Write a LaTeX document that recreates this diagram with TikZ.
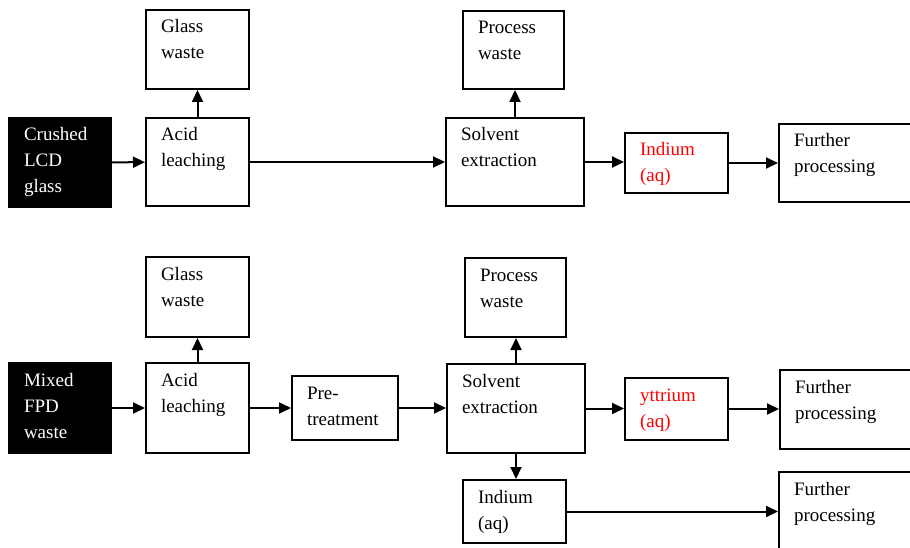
\documentclass[tikz,border=0pt]{standalone}
\usepackage{fontspec}
\setmainfont{Liberation Serif}
\usepackage{xcolor}
\usetikzlibrary{positioning, arrows.meta}
\definecolor{aqred}{HTML}{FF0000}

\begin{document}
\begin{tikzpicture}[
    x=1pt, y=-1pt,
    box/.style={draw, line width=2pt, anchor=north west, align=left, inner xsep=15pt, inner ysep=8pt, text height=15pt, font=\fontsize{19}{26}\selectfont},
    sz/.style 2 args={text width=#1, text depth=#2},
    feed/.style={box, fill=black, text=white},
    arrow/.style={-{Triangle[length=12pt, width=11pt]}, line width=2pt}
  ]
    \clip (0,0) rectangle (910,548);
    % LCD route
    \node[feed, sz={72pt}{58pt}] (crushed) at (8,117)  {Crushed\\LCD\\glass};
    \node[box, sz={73pt}{57pt}]  (acid1)  at (145,117) {Acid\\leaching};
    \node[box, sz={73pt}{48pt}]  (glass1) at (145,9)   {Glass\\waste};
    \node[box, sz={108pt}{57pt}] (solv1)  at (445,117) {Solvent\\extraction};
    \node[box, sz={71pt}{47pt}]  (proc1)  at (462,10)  {Process\\waste};
    \node[box, sz={73pt}{29pt}, text=aqred] (ind1) at (624,132) {Indium\\(aq)};
    \node[box, sz={130pt}{47pt}] (furth1) at (778,123) {Further\\processing};
    % FPD route
    \node[feed, sz={72pt}{59pt}] (mixed)  at (8,362)   {Mixed\\FPD\\waste};
    \node[box, sz={73pt}{59pt}]  (acid2)  at (145,362) {Acid\\leaching};
    \node[box, sz={73pt}{49pt}]  (glass2) at (145,256) {Glass\\waste};
    \node[box, sz={76pt}{33pt}]  (pre)    at (291,375) {Pre-\\treatment};
    \node[box, sz={108pt}{58pt}] (solv2)  at (446,363) {Solvent\\extraction};
    \node[box, sz={71pt}{48pt}]  (proc2)  at (464,257) {Process\\waste};
    \node[box, sz={73pt}{31pt}, text=aqred] (yttr) at (624,377) {yttrium\\(aq)};
    \node[box, sz={130pt}{48pt}] (furth2) at (779,369) {Further\\processing};
    \node[box, sz={73pt}{32pt}]  (ind2)   at (462,479) {Indium\\(aq)};
    \node[box, sz={130pt}{69pt}] (furth3) at (778,471) {Further\\processing};

    \draw[arrow] (crushed) -- (acid1);
    \draw[arrow] (acid1.north) -- (glass1.south);
    \draw[arrow] (acid1.east) -- (acid1.east -| solv1.west);
    \draw[arrow] (solv1.north) -- (solv1.north |- proc1.south);
    \draw[arrow] (solv1.east) -- (solv1.east -| ind1.west);
    \draw[arrow] (ind1.east) -- (ind1.east -| furth1.west);

    \draw[arrow] (mixed) -- (acid2);
    \draw[arrow] (acid2.north) -- (glass2.south);
    \draw[arrow] (acid2.east) -- (acid2.east -| pre.west);
    \draw[arrow] (pre.east) -- (pre.east -| solv2.west);
    \draw[arrow] (solv2.north) -- (solv2.north |- proc2.south);
    \draw[arrow] (solv2.east) -- (solv2.east -| yttr.west);
    \draw[arrow] (yttr.east) -- (yttr.east -| furth2.west);
    \draw[arrow] (solv2.south) -- (solv2.south |- ind2.north);
    \draw[arrow] (ind2.east) -- (ind2.east -| furth3.west);
  \end{tikzpicture}
\end{document}
